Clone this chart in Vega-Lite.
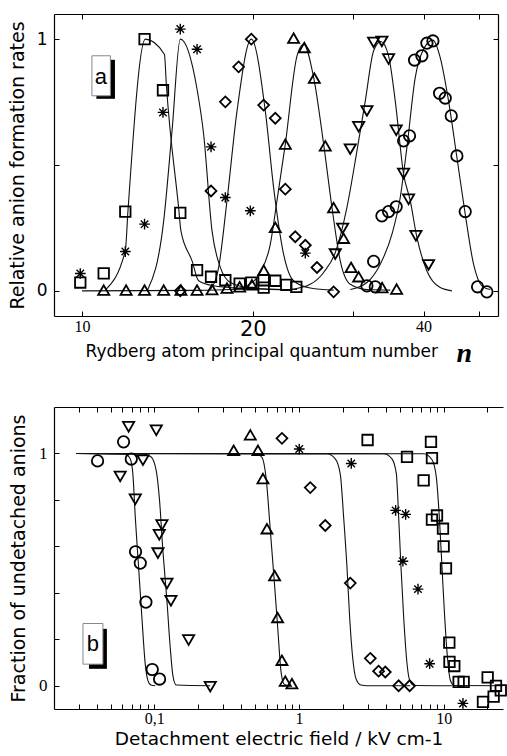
{
  "$schema": "https://vega.github.io/schema/vega-lite/v6.json",
  "padding": {"left": 8, "top": 13, "right": 0, "bottom": 2},
  "bounds": "flush",
  "spacing": 91,
  "config": {
    "view": {"stroke": null},
    "font": "DejaVu Sans",
    "axis": {"grid": false, "domain": true, "domainColor": "black", "domainWidth": 1.2, "tickColor": "black", "tickWidth": 1, "labelColor": "black", "titleColor": "black", "titleFontWeight": "normal", "labelFlush": false, "labelOverlap": false}
  },
  "datasets": {
    "topPts": [
      {"s":"sq","n":9.93,"y":0.033},{"s":"sq","n":10.92,"y":0.069},{"s":"sq","n":11.92,"y":0.315},{"s":"sq","n":12.89,"y":1.0},{"s":"sq","n":13.89,"y":0.797},{"s":"sq","n":14.9,"y":0.31},{"s":"sq","n":15.95,"y":0.082},{"s":"sq","n":16.88,"y":0.056},{"s":"sq","n":17.89,"y":0.042},{"s":"sq","n":18.96,"y":0.029},{"s":"sq","n":19.88,"y":0.033},{"s":"sq","n":20.9,"y":0.042},{"s":"sq","n":20.9,"y":0.013},{"s":"sq","n":21.91,"y":0.04},{"s":"sq","n":22.91,"y":0.024},{"s":"sq","n":23.86,"y":0.016},
      {"s":"st","n":9.93,"y":0.069},{"s":"st","n":11.92,"y":0.156},{"s":"st","n":12.89,"y":0.265},{"s":"st","n":13.89,"y":0.709},{"s":"st","n":14.9,"y":1.04},{"s":"st","n":15.95,"y":0.96},{"s":"st","n":16.88,"y":0.572},{"s":"st","n":17.89,"y":0.371},{"s":"st","n":19.8,"y":0.318},{"s":"st","n":24.75,"y":0.15},
      {"s":"di","n":14.9,"y":0.0},{"s":"di","n":16.88,"y":0.397},{"s":"di","n":17.89,"y":0.751},{"s":"di","n":18.88,"y":0.89},{"s":"di","n":19.88,"y":1.0},{"s":"di","n":20.9,"y":0.738},{"s":"di","n":21.91,"y":0.686},{"s":"di","n":22.82,"y":0.404},{"s":"di","n":23.76,"y":0.215},{"s":"di","n":24.75,"y":0.181},{"s":"di","n":25.95,"y":0.093},{"s":"di","n":27.76,"y":-0.004},
      {"s":"tu","n":10.92,"y":0.003},{"s":"tu","n":11.96,"y":0.003},{"s":"tu","n":12.89,"y":0.003},{"s":"tu","n":13.93,"y":0.003},{"s":"tu","n":14.94,"y":0.003},{"s":"tu","n":15.95,"y":0.003},{"s":"tu","n":16.95,"y":0.005},{"s":"tu","n":18.01,"y":0.011},{"s":"tu","n":18.96,"y":0.016},{"s":"tu","n":19.93,"y":0.024},{"s":"tu","n":20.9,"y":0.082},{"s":"tu","n":21.91,"y":0.252},{"s":"tu","n":22.82,"y":0.583},{"s":"tu","n":23.6,"y":1.004},{"s":"tu","n":24.65,"y":0.967},{"s":"tu","n":25.67,"y":0.845},{"s":"tu","n":26.84,"y":0.576},{"s":"tu","n":27.76,"y":0.331},{"s":"tu","n":28.91,"y":0.209},{"s":"tu","n":29.8,"y":0.093},{"s":"tu","n":30.73,"y":0.056},{"s":"tu","n":33.8,"y":0.013},{"s":"tu","n":35.85,"y":0.007},
      {"s":"td","n":27.95,"y":0.146},{"s":"td","n":28.8,"y":0.248},{"s":"td","n":29.7,"y":0.563},{"s":"td","n":30.73,"y":0.652},{"s":"td","n":31.78,"y":0.715},{"s":"td","n":32.66,"y":0.987},{"s":"td","n":33.77,"y":0.991},{"s":"td","n":34.7,"y":0.921},{"s":"td","n":35.79,"y":0.638},{"s":"td","n":36.88,"y":0.466},{"s":"td","n":37.63,"y":0.364},{"s":"td","n":38.77,"y":0.219},{"s":"td","n":40.82,"y":0.103},
      {"s":"ci","n":31.78,"y":0.02},{"s":"ci","n":32.88,"y":0.016},{"s":"ci","n":32.66,"y":0.117},{"s":"ci","n":33.77,"y":0.298},{"s":"ci","n":34.7,"y":0.315},{"s":"ci","n":35.79,"y":0.334},{"s":"ci","n":36.88,"y":0.596},{"s":"ci","n":37.78,"y":0.616},{"s":"ci","n":38.56,"y":0.917},{"s":"ci","n":39.72,"y":0.934},{"s":"ci","n":40.54,"y":0.984},{"s":"ci","n":41.54,"y":0.993},{"s":"ci","n":42.68,"y":0.785},{"s":"ci","n":43.67,"y":0.766},{"s":"ci","n":44.75,"y":0.695},{"s":"ci","n":45.79,"y":0.536},{"s":"ci","n":47.36,"y":0.315},{"s":"ci","n":49.79,"y":0.016},{"s":"ci","n":51.71,"y":-0.004}
    ],
    "topLines": [
      {"s":"sq","n":10.99,"y":0.003},{"s":"sq","n":11.92,"y":0.159},{"s":"sq","n":12.05,"y":0.318},{"s":"sq","n":12.93,"y":1.0},{"s":"sq","n":13.97,"y":0.94},{"s":"sq","n":14.08,"y":0.821},{"s":"sq","n":14.8,"y":0.331},{"s":"sq","n":14.94,"y":0.238},{"s":"sq","n":15.63,"y":0.119},{"s":"sq","n":16.05,"y":0.04},{"s":"sq","n":17.06,"y":0.02},{"s":"sq","n":18.76,"y":0.011},{"s":"sq","n":23.93,"y":0.005},
      {"s":"st","n":13.05,"y":0.003},{"s":"st","n":13.93,"y":0.278},{"s":"st","n":14.41,"y":0.636},{"s":"st","n":14.9,"y":1.0},{"s":"st","n":15.95,"y":0.801},{"s":"st","n":16.38,"y":0.623},{"s":"st","n":16.95,"y":0.238},{"s":"st","n":17.53,"y":0.093},{"s":"st","n":18.26,"y":0.033},{"s":"st","n":19.8,"y":0.011},{"s":"st","n":23.29,"y":0.003},
      {"s":"di","n":16.83,"y":0.005},{"s":"di","n":17.41,"y":0.093},{"s":"di","n":18.01,"y":0.358},{"s":"di","n":18.76,"y":0.715},{"s":"di","n":19.88,"y":1.0},{"s":"di","n":21.04,"y":0.715},{"s":"di","n":21.76,"y":0.411},{"s":"di","n":22.66,"y":0.146},{"s":"di","n":23.6,"y":0.04},{"s":"di","n":25.25,"y":0.011},{"s":"di","n":27.76,"y":0.003},
      {"s":"tu","n":10.0,"y":0.0},{"s":"tu","n":16.0,"y":0.002},{"s":"tu","n":18.26,"y":0.005},{"s":"tu","n":19.53,"y":0.02},{"s":"tu","n":20.62,"y":0.073},{"s":"tu","n":21.47,"y":0.185},{"s":"tu","n":22.06,"y":0.358},{"s":"tu","n":22.82,"y":0.583},{"s":"tu","n":23.93,"y":0.934},{"s":"tu","n":24.58,"y":0.98},{"s":"tu","n":25.6,"y":0.848},{"s":"tu","n":26.66,"y":0.583},{"s":"tu","n":27.58,"y":0.331},{"s":"tu","n":28.52,"y":0.119},{"s":"tu","n":29.7,"y":0.026},{"s":"tu","n":31.78,"y":0.005},{"s":"tu","n":34.94,"y":0.003},
      {"s":"td","n":23.29,"y":0.005},{"s":"td","n":25.25,"y":0.026},{"s":"td","n":26.66,"y":0.073},{"s":"td","n":27.95,"y":0.152},{"s":"td","n":29.3,"y":0.331},{"s":"td","n":30.52,"y":0.556},{"s":"td","n":31.57,"y":0.755},{"s":"td","n":32.66,"y":0.954},{"s":"td","n":33.64,"y":0.991},{"s":"td","n":34.7,"y":0.934},{"s":"td","n":35.65,"y":0.755},{"s":"td","n":36.88,"y":0.464},{"s":"td","n":37.89,"y":0.358},{"s":"td","n":38.93,"y":0.212},{"s":"td","n":40.54,"y":0.079},{"s":"td","n":42.79,"y":0.013},{"s":"td","n":44.87,"y":0.0},
      {"s":"ci","n":29.7,"y":0.005},{"s":"ci","n":31.78,"y":0.033},{"s":"ci","n":33.55,"y":0.106},{"s":"ci","n":35.18,"y":0.225},{"s":"ci","n":36.38,"y":0.371},{"s":"ci","n":37.38,"y":0.57},{"s":"ci","n":38.67,"y":0.848},{"s":"ci","n":39.99,"y":0.96},{"s":"ci","n":41.54,"y":0.996},{"s":"ci","n":42.79,"y":0.927},{"s":"ci","n":44.26,"y":0.755},{"s":"ci","n":45.79,"y":0.53},{"s":"ci","n":47.36,"y":0.305},{"s":"ci","n":48.99,"y":0.106},{"s":"ci","n":50.67,"y":0.02},{"s":"ci","n":52.42,"y":0.005}
    ],
    "botPts": [
      {"s":"ci","x":0.0406,"y":0.968},{"s":"ci","x":0.0614,"y":1.05},{"s":"ci","x":0.0694,"y":0.976},{"s":"ci","x":0.0743,"y":0.577},{"s":"ci","x":0.0801,"y":0.528},{"s":"ci","x":0.0876,"y":0.36},{"s":"ci","x":0.0969,"y":0.07},{"s":"ci","x":0.1089,"y":0.029},
      {"s":"td","x":0.0665,"y":1.115},{"s":"td","x":0.1033,"y":1.1},{"s":"td","x":0.0836,"y":0.971},{"s":"td","x":0.0582,"y":0.901},{"s":"td","x":0.074,"y":0.803},{"s":"td","x":0.113,"y":0.692},{"s":"td","x":0.1083,"y":0.65},{"s":"td","x":0.1061,"y":0.571},{"s":"td","x":0.1224,"y":0.44},{"s":"td","x":0.1304,"y":0.366},{"s":"td","x":0.1728,"y":0.197},{"s":"td","x":0.2439,"y":-0.004},
      {"s":"tu","x":0.354,"y":1.014},{"s":"tu","x":0.461,"y":1.08},{"s":"tu","x":0.521,"y":1.014},{"s":"tu","x":0.564,"y":0.892},{"s":"tu","x":0.601,"y":0.676},{"s":"tu","x":0.679,"y":0.474},{"s":"tu","x":0.712,"y":0.294},{"s":"tu","x":0.763,"y":0.11},{"s":"tu","x":0.804,"y":0.02},{"s":"tu","x":0.894,"y":0.009},
      {"s":"di","x":0.763,"y":1.065},{"s":"di","x":1.197,"y":0.853},{"s":"di","x":1.52,"y":0.69},{"s":"di","x":2.263,"y":0.442},{"s":"di","x":3.111,"y":0.118},{"s":"di","x":3.552,"y":0.063},{"s":"di","x":3.95,"y":0.059},{"s":"di","x":4.884,"y":0.0},{"s":"di","x":5.82,"y":0.0},
      {"s":"st","x":1.005,"y":1.019},{"s":"st","x":2.299,"y":0.957},{"s":"st","x":4.656,"y":0.755},{"s":"st","x":5.46,"y":0.738},{"s":"st","x":5.23,"y":0.536},{"s":"st","x":6.645,"y":0.416},{"s":"st","x":7.998,"y":0.095},{"s":"st","x":13.59,"y":-0.076},
      {"s":"sq","x":2.98,"y":1.058},{"s":"sq","x":5.58,"y":0.985},{"s":"sq","x":8.17,"y":1.05},{"s":"sq","x":8.3,"y":0.98},{"s":"sq","x":7.27,"y":0.884},{"s":"sq","x":8.99,"y":0.733},{"s":"sq","x":8.3,"y":0.715},{"s":"sq","x":9.89,"y":0.676},{"s":"sq","x":9.99,"y":0.6},{"s":"sq","x":10.37,"y":0.505},{"s":"sq","x":10.94,"y":0.186},{"s":"sq","x":10.97,"y":0.103},{"s":"sq","x":11.84,"y":0.085},{"s":"sq","x":12.69,"y":0.017},{"s":"sq","x":13.74,"y":0.017},{"s":"sq","x":20.13,"y":0.036},{"s":"sq","x":22.98,"y":0.0},{"s":"sq","x":22.14,"y":-0.047},{"s":"sq","x":18.69,"y":-0.069},{"s":"sq","x":24.8,"y":-0.02}
    ],
    "botLines": [
      {"s":"ci","x":0.0289,"y":1},{"s":"ci","x":0.0631,"y":0.997},{"s":"ci","x":0.0683,"y":0.976},{"s":"ci","x":0.0712,"y":0.911},{"s":"ci","x":0.074,"y":0.725},{"s":"ci","x":0.078,"y":0.509},{"s":"ci","x":0.0822,"y":0.294},{"s":"ci","x":0.0867,"y":0.093},{"s":"ci","x":0.0905,"y":0.022},{"s":"ci","x":0.0949,"y":0.003},{"s":"ci","x":0.1017,"y":0},
      {"s":"td","x":0.0289,"y":1},{"s":"td","x":0.0844,"y":0.997},{"s":"td","x":0.0949,"y":0.986},{"s":"td","x":0.1033,"y":0.925},{"s":"td","x":0.1089,"y":0.796},{"s":"td","x":0.1148,"y":0.581},{"s":"td","x":0.1224,"y":0.366},{"s":"td","x":0.129,"y":0.165},{"s":"td","x":0.1347,"y":0.043},{"s":"td","x":0.142,"y":0.003},{"s":"td","x":0.2439,"y":0},
      {"s":"tu","x":0.0289,"y":1},{"s":"tu","x":0.499,"y":1},{"s":"tu","x":0.555,"y":0.983},{"s":"tu","x":0.595,"y":0.885},{"s":"tu","x":0.634,"y":0.669},{"s":"tu","x":0.675,"y":0.452},{"s":"tu","x":0.716,"y":0.236},{"s":"tu","x":0.751,"y":0.063},{"s":"tu","x":0.792,"y":0.006},{"s":"tu","x":0.871,"y":0},
      {"s":"di","x":0.0289,"y":1},{"s":"di","x":1.561,"y":0.999},{"s":"di","x":1.783,"y":0.977},{"s":"di","x":1.931,"y":0.91},{"s":"di","x":2.036,"y":0.726},{"s":"di","x":2.147,"y":0.511},{"s":"di","x":2.239,"y":0.297},{"s":"di","x":2.361,"y":0.11},{"s":"di","x":2.49,"y":0.027},{"s":"di","x":2.682,"y":0.003},{"s":"di","x":2.95,"y":0},{"s":"di","x":5.88,"y":0},
      {"s":"st","x":0.0289,"y":1},{"s":"st","x":3.847,"y":0.999},{"s":"st","x":4.394,"y":0.977},{"s":"st","x":4.708,"y":0.913},{"s":"st","x":4.887,"y":0.726},{"s":"st","x":5.07,"y":0.511},{"s":"st","x":5.29,"y":0.297},{"s":"st","x":5.58,"y":0.096},{"s":"st","x":5.82,"y":0.024},{"s":"st","x":6.27,"y":0.001},{"s":"st","x":11.41,"y":0},
      {"s":"sq","x":0.0289,"y":1},{"s":"sq","x":7.274,"y":0.999},{"s":"sq","x":8.306,"y":0.973},{"s":"sq","x":8.897,"y":0.898},{"s":"sq","x":9.332,"y":0.726},{"s":"sq","x":9.736,"y":0.511},{"s":"sq","x":10.16,"y":0.297},{"s":"sq","x":10.66,"y":0.11},{"s":"sq","x":11.12,"y":0.024},{"s":"sq","x":11.85,"y":0.001},{"s":"sq","x":25.5,"y":0}
    ]
  },
  "vconcat": [
    {
      "width": 444,
      "height": 302,
      "resolve": {"axis": {"x": "independent", "y": "independent"}},
      "layer": [
        {
          "data": {"values": [{"t": "a"}]},
          "mark": {"type": "rect", "color": "black"},
          "encoding": {
            "x": {"datum": 10.6, "type": "quantitative", "scale": {"type": "log", "domain": [8.925, 54.1], "nice": false}, "axis": null},
            "x2": {"datum": 11.43},
            "y": {"datum": 0.918, "type": "quantitative", "scale": {"domain": [-0.1, 1.1], "nice": false, "zero": false}, "axis": null},
            "y2": {"datum": 0.763}
          }
        },
        {
          "data": {"values": [{"t": "a"}]},
          "mark": {"type": "rect", "fill": "white", "stroke": "#888", "strokeWidth": 1},
          "encoding": {
            "x": {"datum": 10.41, "type": "quantitative", "axis": null},
            "x2": {"datum": 11.22},
            "y": {"datum": 0.934, "type": "quantitative", "axis": null},
            "y2": {"datum": 0.775}
          }
        },
        {
          "data": {"values": [{"t": "a"}]},
          "mark": {"type": "text", "font": "Liberation Sans", "fontSize": 22, "color": "black", "baseline": "middle", "align": "center"},
          "encoding": {
            "x": {"datum": 10.8, "type": "quantitative", "axis": null},
            "y": {"datum": 0.85, "type": "quantitative", "axis": null},
            "text": {"field": "t"}
          }
        },
        {
          "data": {"name": "topLines"},
          "mark": {"type": "line", "color": "#111", "strokeWidth": 1.1, "interpolate": "monotone"},
          "encoding": {
            "x": {"field": "n", "type": "quantitative",
              "axis": {"orient": "bottom", "values": [10, 20, 30, 40, 50], "tickSize": -5, "labelPadding": 7,
                "labelExpr": "datum.value == 30 || datum.value == 50 ? '' : format(datum.value, 'd')",
                "labelFont": {"condition": {"test": "datum.value == 20", "value": "DejaVu Sans"}, "value": "Liberation Serif"},
                "labelFontSize": {"condition": {"test": "datum.value == 20", "value": 21}, "value": 16},
                "title": "Rydberg atom principal quantum number", "titleFont": "DejaVu Sans", "titleFontSize": 17, "titlePadding": 4, "titleAnchor": "start", "titleX": 31}},
            "y": {"field": "y", "type": "quantitative",
              "axis": {"orient": "left", "values": [0, 0.5, 1], "tickSize": -5, "labelPadding": 12,
                "labelExpr": "datum.value == 1 ? '1' : datum.value == 0 ? '0' : ''",
                "labelFont": "DejaVu Sans", "labelFontSize": 17,
                "title": "Relative anion formation rates", "titleFont": "DejaVu Sans", "titleFontSize": 19, "titlePadding": 9}},
            "detail": {"field": "s"}
          }
        },
        {
          "data": {"name": "topPts"},
          "transform": [{"filter": "datum.s != 'st'"}],
          "mark": {"type": "point", "filled": false, "color": "black", "strokeWidth": 1.8, "opacity": 1},
          "encoding": {
            "x": {"field": "n", "type": "quantitative", "axis": null},
            "y": {"field": "y", "type": "quantitative", "axis": null},
            "shape": {"field": "s", "type": "nominal", "legend": null, "scale": {"domain": ["sq", "st", "di", "tu", "td", "ci"], "range": ["square", "M0,-1L0,1M-1,0L1,0M-0.7,-0.7L0.7,0.7M-0.7,0.7L0.7,-0.7", "diamond", "triangle-up", "triangle-down", "circle"]}},
            "size": {"field": "s", "type": "nominal", "legend": null, "scale": {"domain": ["sq", "st", "di", "tu", "td", "ci"], "range": [110, 130, 140, 165, 165, 130]}}
          }
        },
        {
          "data": {"name": "topPts"},
          "transform": [{"filter": "datum.s == 'st'"}],
          "mark": {"type": "point", "filled": false, "color": "black", "strokeWidth": 1.4, "opacity": 1},
          "encoding": {
            "x": {"field": "n", "type": "quantitative", "axis": null},
            "y": {"field": "y", "type": "quantitative", "axis": null},
            "shape": {"field": "s", "type": "nominal", "legend": null},
            "size": {"field": "s", "type": "nominal", "legend": null}
          }
        },
        {
          "data": {"name": "topPts"},
          "mark": {"type": "point", "opacity": 0},
          "encoding": {
            "x": {"field": "n", "type": "quantitative", "axis": {"orient": "top", "values": [10, 20, 30, 40, 50], "tickSize": -5, "labels": false, "title": null}},
            "y": {"field": "y", "type": "quantitative", "axis": {"orient": "right", "values": [0, 0.5, 1], "tickSize": -5, "labels": false, "title": null}}
          }
        },
        {
          "data": {"values": [{"t": "n"}]},
          "mark": {"type": "text", "font": "Liberation Serif", "fontStyle": "italic", "fontWeight": "bold", "fontSize": 28, "color": "black", "baseline": "middle", "align": "center"},
          "encoding": {
            "x": {"datum": 47.2, "type": "quantitative", "axis": null},
            "y": {"datum": -0.252, "type": "quantitative", "axis": null},
            "text": {"field": "t"}
          }
        }
      ]
    },
    {
      "width": 449,
      "height": 302,
      "resolve": {"axis": {"x": "independent", "y": "independent"}},
      "layer": [
        {
          "data": {"values": [{"t": "b"}]},
          "mark": {"type": "rect", "color": "black"},
          "encoding": {
            "x": {"datum": 0.0354, "type": "quantitative", "scale": {"type": "log", "domain": [0.0203, 25.7], "nice": false}, "axis": null},
            "x2": {"datum": 0.0471},
            "y": {"datum": 0.245, "type": "quantitative", "scale": {"domain": [-0.1, 1.2], "nice": false, "zero": false}, "axis": null},
            "y2": {"datum": 0.073}
          }
        },
        {
          "data": {"values": [{"t": "b"}]},
          "mark": {"type": "rect", "fill": "white", "stroke": "#888", "strokeWidth": 1},
          "encoding": {
            "x": {"datum": 0.0322, "type": "quantitative", "axis": null},
            "x2": {"datum": 0.0442},
            "y": {"datum": 0.268, "type": "quantitative", "axis": null},
            "y2": {"datum": 0.093}
          }
        },
        {
          "data": {"values": [{"t": "b"}]},
          "mark": {"type": "text", "font": "Liberation Sans", "fontSize": 22, "color": "black", "baseline": "middle", "align": "center"},
          "encoding": {
            "x": {"datum": 0.0377, "type": "quantitative", "axis": null},
            "y": {"datum": 0.178, "type": "quantitative", "axis": null},
            "text": {"field": "t"}
          }
        },
        {
          "data": {"name": "botLines"},
          "mark": {"type": "line", "color": "#111", "strokeWidth": 1.1, "interpolate": "monotone"},
          "encoding": {
            "x": {"field": "x", "type": "quantitative",
              "axis": {"orient": "bottom", "values": [0.02, 0.03, 0.04, 0.05, 0.06, 0.07, 0.08, 0.09, 0.1, 0.2, 0.3, 0.4, 0.5, 0.6, 0.7, 0.8, 0.9, 1, 2, 3, 4, 5, 6, 7, 8, 9, 10, 20], "tickSize": -5, "labelPadding": 6,
                "labelExpr": "datum.value == 0.1 ? '0,1' : datum.value == 1 ? '1' : datum.value == 10 ? '10' : ''",
                "labelFont": "Liberation Serif", "labelFontSize": 16,
                "title": "Detachment electric field / kV cm-1", "titleFont": "DejaVu Sans", "titleFontSize": 18.5, "titlePadding": 3}},
            "y": {"field": "y", "type": "quantitative",
              "axis": {"orient": "left", "values": [0, 0.2, 0.4, 0.6, 0.8, 1], "tickSize": -5, "labelPadding": 12,
                "labelExpr": "datum.value == 1 ? '1' : datum.value == 0 ? '0' : ''",
                "labelFont": "Liberation Serif", "labelFontSize": 17,
                "title": "Fraction of undetached anions", "titleFont": "DejaVu Sans", "titleFontSize": 19, "titlePadding": 10}},
            "detail": {"field": "s"}
          }
        },
        {
          "data": {"name": "botPts"},
          "transform": [{"filter": "datum.s != 'st'"}],
          "mark": {"type": "point", "filled": false, "color": "black", "strokeWidth": 1.8, "opacity": 1},
          "encoding": {
            "x": {"field": "x", "type": "quantitative", "axis": null},
            "y": {"field": "y", "type": "quantitative", "axis": null},
            "shape": {"field": "s", "type": "nominal", "legend": null},
            "size": {"field": "s", "type": "nominal", "legend": null}
          }
        },
        {
          "data": {"name": "botPts"},
          "transform": [{"filter": "datum.s == 'st'"}],
          "mark": {"type": "point", "filled": false, "color": "black", "strokeWidth": 1.4, "opacity": 1},
          "encoding": {
            "x": {"field": "x", "type": "quantitative", "axis": null},
            "y": {"field": "y", "type": "quantitative", "axis": null},
            "shape": {"field": "s", "type": "nominal", "legend": null},
            "size": {"field": "s", "type": "nominal", "legend": null}
          }
        },
        {
          "data": {"name": "botPts"},
          "mark": {"type": "point", "opacity": 0},
          "encoding": {
            "x": {"field": "x", "type": "quantitative", "axis": {"orient": "top", "values": [0.02, 0.03, 0.04, 0.05, 0.06, 0.07, 0.08, 0.09, 0.1, 0.2, 0.3, 0.4, 0.5, 0.6, 0.7, 0.8, 0.9, 1, 2, 3, 4, 5, 6, 7, 8, 9, 10, 20], "tickSize": -5, "labels": false, "title": null}}
          }
        }
      ]
    }
  ]
}
